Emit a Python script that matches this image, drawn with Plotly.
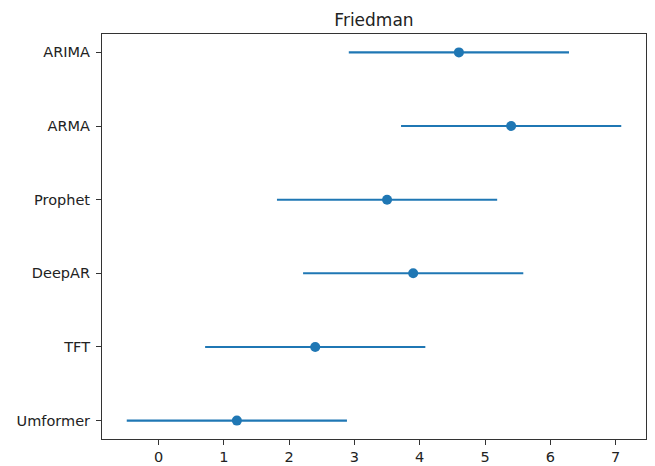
import plotly.graph_objects as go

models = ["ARIMA", "ARMA", "Prophet", "DeepAR", "TFT", "Umformer"]
mean_ranks = [4.6, 5.4, 3.5, 3.9, 2.4, 1.2]
half_cd = [1.686, 1.686, 1.686, 1.686, 1.686, 1.686]
x_ticks = [0, 1, 2, 3, 4, 5, 6, 7]

ypos = list(range(len(models) - 1, -1, -1))

fig = go.Figure()
fig.add_trace(go.Scatter(
    x=mean_ranks, y=ypos, mode="markers",
    marker=dict(color="#1f77b4", size=10, symbol="circle"),
    error_x=dict(type="data", array=half_cd, symmetric=True, width=0,
                 thickness=2.1, color="#1f77b4"),
    showlegend=False,
))

# page body has an 8px margin, so the figure is sized to fit the 655x466 window
font = dict(family="DejaVu Sans", size=14.5, color="#222222")
fig.update_layout(
    template="none",
    width=647, height=458,
    margin=dict(l=94, r=9, t=26, b=27, pad=0, autoexpand=False),
    paper_bgcolor="white", plot_bgcolor="white",
    title=dict(text="Friedman", x=0.5, xref="paper", xanchor="center",
               y=1, yref="paper", yanchor="bottom", pad=dict(b=8, t=0, l=0, r=0),
               automargin=False,
               font=dict(family="DejaVu Sans", size=17, color="#222222")),
    font=font,
)
fig.update_xaxes(range=[-0.865, 7.465], tickvals=x_ticks, ticktext=[str(t) for t in x_ticks],
                 automargin=False,
                 showgrid=False, zeroline=False, showline=True, linecolor="#333333",
                 linewidth=1.1, mirror=True, ticks="outside", ticklen=5, tickwidth=1.1,
                 tickcolor="#333333", tickfont=font)
fig.update_yaxes(range=[-0.25, 5.25], tickvals=ypos, ticktext=models,
                 automargin=False,
                 showgrid=False, zeroline=False, showline=True, linecolor="#333333",
                 linewidth=1.1, mirror=True, ticks="outside", ticklen=5, tickwidth=1.1,
                 tickcolor="#333333", tickfont=font, ticklabelstandoff=3)

fig.write_html("out.html")
